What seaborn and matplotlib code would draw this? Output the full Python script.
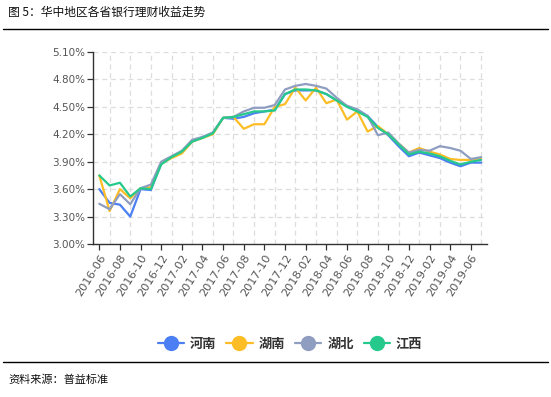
import numpy as np
import pandas as pd
import matplotlib
matplotlib.use("Agg")
import matplotlib.pyplot as plt
from matplotlib.lines import Line2D
import seaborn as sns

# monthly categories 2016-06 .. 2019-07
months = pd.date_range("2016-06-01", "2019-07-01", freq="MS").strftime("%Y-%m").tolist()

henan = [3.60, 3.45, 3.43, 3.30, 3.60, 3.59, 3.88, 3.95, 4.01, 4.12, 4.17, 4.21, 4.38,
         4.37, 4.39, 4.43, 4.45, 4.47, 4.64, 4.68, 4.68, 4.68, 4.64, 4.57, 4.51, 4.47,
         4.40, 4.28, 4.19, 4.07, 3.96, 4.00, 3.97, 3.94, 3.89, 3.85, 3.89, 3.89]
hunan = [3.75, 3.36, 3.60, 3.50, 3.61, 3.62, 3.88, 3.94, 3.99, 4.12, 4.16, 4.20, 4.38,
         4.39, 4.26, 4.31, 4.31, 4.50, 4.53, 4.71, 4.57, 4.71, 4.54, 4.58, 4.36, 4.45,
         4.23, 4.29, 4.20, 4.10, 4.00, 4.05, 4.01, 3.98, 3.93, 3.92, 3.92, 3.94]
hubei = [3.44, 3.38, 3.545, 3.435, 3.61, 3.65, 3.90, 3.96, 4.02, 4.14, 4.17, 4.22, 4.38,
         4.39, 4.45, 4.49, 4.49, 4.52, 4.69, 4.73, 4.75, 4.73, 4.70, 4.60, 4.51, 4.47,
         4.40, 4.19, 4.22, 4.10, 4.00, 4.03, 4.02, 4.07, 4.05, 4.02, 3.93, 3.95]
jiangxi = [3.75, 3.64, 3.67, 3.52, 3.61, 3.60, 3.87, 3.95, 4.01, 4.12, 4.16, 4.21, 4.38,
           4.39, 4.42, 4.45, 4.45, 4.46, 4.64, 4.69, 4.69, 4.68, 4.64, 4.57, 4.50, 4.45,
           4.39, 4.27, 4.20, 4.09, 3.98, 4.01, 3.99, 3.96, 3.91, 3.87, 3.90, 3.92]

provinces = ["河南", "湖南", "湖北", "江西"]
colors = ["#4b7ff3", "#fcbd26", "#8f9dc0", "#26c98c"]
y_ticks = [3.0, 3.3, 3.6, 3.9, 4.2, 4.5, 4.8, 5.1]

sns.set_theme(style="white")
plt.rcParams['font.family'] = ['Noto Sans CJK SC', 'DejaVu Sans']

df = pd.DataFrame({
    "idx": list(range(len(months))) * 4,
    "value": henan + hunan + hubei + jiangxi,
    "province": sum([[p] * len(months) for p in provinces], []),
})

fig = plt.figure(figsize=(5.51, 3.97), dpi=100)
W, H = 551, 397
ax = fig.add_axes([93.3 / W, 1 - 244 / H, (486.7 - 93.3) / W, (244 - 52) / H])

sns.lineplot(data=df, x="idx", y="value", hue="province", hue_order=provinces,
             palette=colors, linewidth=1.6, ax=ax, legend=False)

ax.set_xlim(-0.58, 37.54)
ax.set_ylim(3.0, 5.1)
ax.set_yticks(y_ticks)
ax.set_yticklabels([f"{v:.2f}%" for v in y_ticks], fontsize=7.5, color="#555555",
                   family="DejaVu Sans")
ax.set_xticks(range(0, len(months), 2))
ax.set_xticklabels(months[::2], rotation=58, ha="right", rotation_mode="anchor",
                   fontsize=8.2, color="#555555", family="DejaVu Sans")
ax.set_xticks(range(1, len(months), 2), minor=True)
ax.set_xlabel("")
ax.set_ylabel("")

ax.grid(False)
ax.yaxis.grid(True, color="#dddddd", linestyle=(0, (4, 3)), linewidth=0.9)
ax.xaxis.grid(True, which="minor", color="#dddddd", linestyle=(0, (4, 3)), linewidth=0.9)
ax.tick_params(axis="both", which="major", direction="out", length=4, width=0.9,
               color="#333333", pad=2, left=True, bottom=True)
ax.tick_params(axis="x", which="minor", length=0)
for side in ["top", "right"]:
    ax.spines[side].set_visible(False)
for side in ["left", "bottom"]:
    ax.spines[side].set_color("#333333")
    ax.spines[side].set_linewidth(1.0)

# legend below the chart
handles = [Line2D([0], [0], color=c, linewidth=1.6, marker="o", markersize=10,
                  markerfacecolor=c, markeredgecolor=c) for c in colors]
leg = fig.legend(handles, provinces, loc="center", bbox_to_anchor=(290 / W, 1 - 344 / H),
                 ncol=4, frameon=False, handlelength=2.0, handletextpad=0.45,
                 columnspacing=0.75, prop={"family": "Noto Sans CJK SC", "size": 9.5,
                                           "weight": "bold"})
for t in leg.get_texts():
    t.set_color("#333333")

# header and footer
fig.text(8 / W, 1 - 12 / H, "图 5：华中地区各省银行理财收益走势", fontsize=8.5,
         va="center", ha="left", color="#111111")
fig.add_artist(Line2D([3 / W, 548 / W], [1 - 29 / H, 1 - 29 / H], color="black", linewidth=1.0))
fig.add_artist(Line2D([3 / W, 548 / W], [1 - 362 / H, 1 - 362 / H], color="black", linewidth=1.0))
fig.text(8 / W, 1 - 380 / H, "资料来源：普益标准", fontsize=8, va="center", ha="left",
         color="#111111")

fig.savefig("out.png", dpi=100)
